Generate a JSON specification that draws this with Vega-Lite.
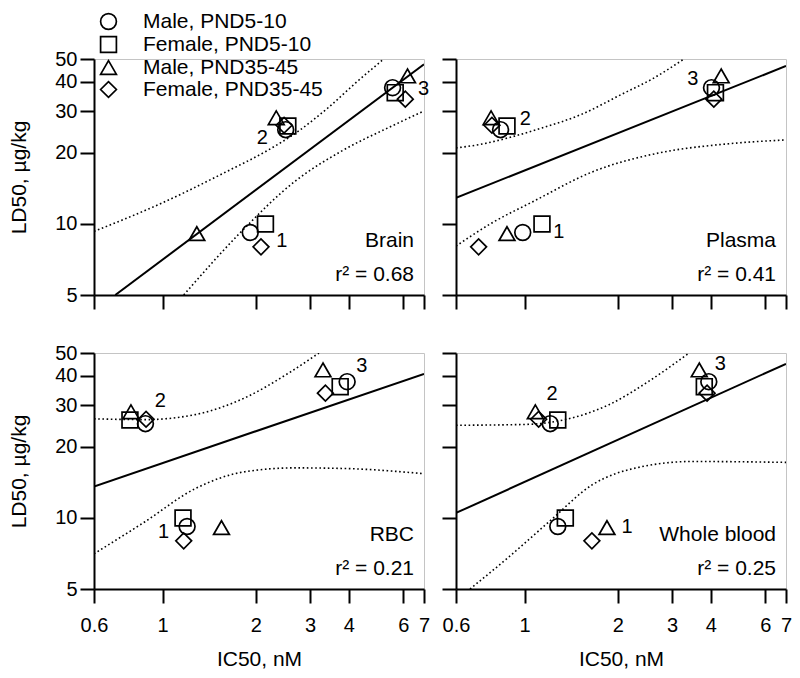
{
  "$schema": "https://vega.github.io/schema/vega-lite/v6.json",
  "background": "white",
  "padding": {"left": 8, "top": 11, "right": 0, "bottom": 0},
  "config": {
    "font": "Liberation Sans",
    "view": {"stroke": "#c4c4c4", "strokeWidth": 1},
    "axis": {"grid": false, "domainColor": "black", "domainWidth": 2, "tickColor": "black", "tickWidth": 2, "tickSize": 14, "labelFontSize": 20, "labelColor": "black", "labelFont": "Liberation Sans", "titleFontSize": 21, "titleFontWeight": "normal", "titleColor": "black", "titleFont": "Liberation Sans", "labelOverlap": false, "labelFlush": false},
    "axisX": {"labelPadding": 12, "titlePadding": 13},
    "axisY": {"labelPadding": 3, "titlePadding": 25},
    "legend": {"orient": "none", "legendX": 4, "legendY": -48, "labelFontSize": 21, "labelColor": "black", "labelFont": "Liberation Sans", "labelLimit": 0, "symbolSize": 250, "symbolStrokeColor": "black", "symbolStrokeWidth": 1.7, "rowPadding": 0, "labelOffset": 24, "padding": 0}
  },
  "datasets": {
    "pts": [
      {"panel": "Brain", "series": "Male, PND5-10", "x": 1.92, "y": 9.2},
      {"panel": "Brain", "series": "Female, PND5-10", "x": 2.15, "y": 10.0},
      {"panel": "Brain", "series": "Male, PND35-45", "x": 1.29, "y": 9.1},
      {"panel": "Brain", "series": "Female, PND35-45", "x": 2.08, "y": 8.0},
      {"panel": "Brain", "series": "Male, PND5-10", "x": 2.5, "y": 25.1},
      {"panel": "Brain", "series": "Female, PND5-10", "x": 2.54, "y": 26.0},
      {"panel": "Brain", "series": "Male, PND35-45", "x": 2.33, "y": 28.2},
      {"panel": "Brain", "series": "Female, PND35-45", "x": 2.47, "y": 26.2},
      {"panel": "Brain", "series": "Male, PND5-10", "x": 5.54, "y": 37.8},
      {"panel": "Brain", "series": "Female, PND5-10", "x": 5.65, "y": 36.0},
      {"panel": "Brain", "series": "Male, PND35-45", "x": 6.19, "y": 42.4},
      {"panel": "Brain", "series": "Female, PND35-45", "x": 6.09, "y": 33.8},
      {"panel": "Plasma", "series": "Male, PND5-10", "x": 0.986, "y": 9.2},
      {"panel": "Plasma", "series": "Female, PND5-10", "x": 1.138, "y": 10.0},
      {"panel": "Plasma", "series": "Male, PND35-45", "x": 0.877, "y": 9.1},
      {"panel": "Plasma", "series": "Female, PND35-45", "x": 0.71, "y": 8.0},
      {"panel": "Plasma", "series": "Male, PND5-10", "x": 0.836, "y": 25.1},
      {"panel": "Plasma", "series": "Female, PND5-10", "x": 0.877, "y": 26.0},
      {"panel": "Plasma", "series": "Male, PND35-45", "x": 0.779, "y": 28.2},
      {"panel": "Plasma", "series": "Female, PND35-45", "x": 0.784, "y": 26.2},
      {"panel": "Plasma", "series": "Male, PND5-10", "x": 4.02, "y": 37.8},
      {"panel": "Plasma", "series": "Female, PND5-10", "x": 4.14, "y": 36.0},
      {"panel": "Plasma", "series": "Male, PND35-45", "x": 4.32, "y": 42.4},
      {"panel": "Plasma", "series": "Female, PND35-45", "x": 4.09, "y": 33.8},
      {"panel": "RBC", "series": "Male, PND5-10", "x": 1.2, "y": 9.2},
      {"panel": "RBC", "series": "Female, PND5-10", "x": 1.164, "y": 10.0},
      {"panel": "RBC", "series": "Male, PND35-45", "x": 1.55, "y": 9.1},
      {"panel": "RBC", "series": "Female, PND35-45", "x": 1.17, "y": 8.0},
      {"panel": "RBC", "series": "Male, PND5-10", "x": 0.88, "y": 25.1},
      {"panel": "RBC", "series": "Female, PND5-10", "x": 0.784, "y": 26.0},
      {"panel": "RBC", "series": "Male, PND35-45", "x": 0.79, "y": 28.2},
      {"panel": "RBC", "series": "Female, PND35-45", "x": 0.884, "y": 26.2},
      {"panel": "RBC", "series": "Male, PND5-10", "x": 3.95, "y": 37.8},
      {"panel": "RBC", "series": "Female, PND5-10", "x": 3.75, "y": 36.0},
      {"panel": "RBC", "series": "Male, PND35-45", "x": 3.3, "y": 42.4},
      {"panel": "RBC", "series": "Female, PND35-45", "x": 3.36, "y": 33.8},
      {"panel": "Whole blood", "series": "Male, PND5-10", "x": 1.28, "y": 9.2},
      {"panel": "Whole blood", "series": "Female, PND5-10", "x": 1.354, "y": 10.0},
      {"panel": "Whole blood", "series": "Male, PND35-45", "x": 1.846, "y": 9.1},
      {"panel": "Whole blood", "series": "Female, PND35-45", "x": 1.65, "y": 8.0},
      {"panel": "Whole blood", "series": "Male, PND5-10", "x": 1.21, "y": 25.1},
      {"panel": "Whole blood", "series": "Female, PND5-10", "x": 1.28, "y": 26.0},
      {"panel": "Whole blood", "series": "Male, PND35-45", "x": 1.083, "y": 28.2},
      {"panel": "Whole blood", "series": "Female, PND35-45", "x": 1.11, "y": 26.2},
      {"panel": "Whole blood", "series": "Male, PND5-10", "x": 3.94, "y": 37.8},
      {"panel": "Whole blood", "series": "Female, PND5-10", "x": 3.81, "y": 36.0},
      {"panel": "Whole blood", "series": "Male, PND35-45", "x": 3.67, "y": 42.4},
      {"panel": "Whole blood", "series": "Female, PND35-45", "x": 3.89, "y": 33.8}
    ],
    "curves": [
      {"panel": "Brain", "curve": "fit", "x": 0.703, "y": 5},
      {"panel": "Brain", "curve": "fit", "x": 7, "y": 47.5},
      {"panel": "Brain", "curve": "upper", "x": 0.6, "y": 9.3},
      {"panel": "Brain", "curve": "upper", "x": 1.0, "y": 12.3},
      {"panel": "Brain", "curve": "upper", "x": 1.6, "y": 16.6},
      {"panel": "Brain", "curve": "upper", "x": 2.2, "y": 20.6},
      {"panel": "Brain", "curve": "upper", "x": 2.72, "y": 24.5},
      {"panel": "Brain", "curve": "upper", "x": 3.44, "y": 31.2},
      {"panel": "Brain", "curve": "upper", "x": 4.2, "y": 39.5},
      {"panel": "Brain", "curve": "upper", "x": 5.19, "y": 50},
      {"panel": "Brain", "curve": "lower", "x": 1.17, "y": 5},
      {"panel": "Brain", "curve": "lower", "x": 1.762, "y": 9.04},
      {"panel": "Brain", "curve": "lower", "x": 2.685, "y": 15.2},
      {"panel": "Brain", "curve": "lower", "x": 3.8, "y": 20.4},
      {"panel": "Brain", "curve": "lower", "x": 5.51, "y": 26.0},
      {"panel": "Brain", "curve": "lower", "x": 7, "y": 30.1},
      {"panel": "Plasma", "curve": "fit", "x": 0.6, "y": 12.9},
      {"panel": "Plasma", "curve": "fit", "x": 7, "y": 46.7},
      {"panel": "Plasma", "curve": "upper", "x": 0.6, "y": 21.0},
      {"panel": "Plasma", "curve": "upper", "x": 0.728, "y": 21.8},
      {"panel": "Plasma", "curve": "upper", "x": 0.91, "y": 23.4},
      {"panel": "Plasma", "curve": "upper", "x": 1.138, "y": 25.5},
      {"panel": "Plasma", "curve": "upper", "x": 1.533, "y": 29.2},
      {"panel": "Plasma", "curve": "upper", "x": 2.065, "y": 35.5},
      {"panel": "Plasma", "curve": "upper", "x": 2.581, "y": 41.1},
      {"panel": "Plasma", "curve": "upper", "x": 3.275, "y": 50},
      {"panel": "Plasma", "curve": "lower", "x": 0.6, "y": 8.06},
      {"panel": "Plasma", "curve": "lower", "x": 0.784, "y": 10.1},
      {"panel": "Plasma", "curve": "lower", "x": 1.072, "y": 12.5},
      {"panel": "Plasma", "curve": "lower", "x": 1.652, "y": 16.6},
      {"panel": "Plasma", "curve": "lower", "x": 2.72, "y": 20.0},
      {"panel": "Plasma", "curve": "lower", "x": 4.445, "y": 21.8},
      {"panel": "Plasma", "curve": "lower", "x": 7, "y": 22.7},
      {"panel": "RBC", "curve": "fit", "x": 0.6, "y": 13.6},
      {"panel": "RBC", "curve": "fit", "x": 7, "y": 40.8},
      {"panel": "RBC", "curve": "upper", "x": 0.6, "y": 26.3},
      {"panel": "RBC", "curve": "upper", "x": 0.877, "y": 26.1},
      {"panel": "RBC", "curve": "upper", "x": 1.273, "y": 27.4},
      {"panel": "RBC", "curve": "upper", "x": 1.846, "y": 32.3},
      {"panel": "RBC", "curve": "upper", "x": 2.562, "y": 41.2},
      {"panel": "RBC", "curve": "upper", "x": 3.203, "y": 50},
      {"panel": "RBC", "curve": "lower", "x": 0.6, "y": 7.05},
      {"panel": "RBC", "curve": "lower", "x": 0.877, "y": 9.64},
      {"panel": "RBC", "curve": "lower", "x": 1.273, "y": 13.3},
      {"panel": "RBC", "curve": "lower", "x": 1.846, "y": 15.7},
      {"panel": "RBC", "curve": "lower", "x": 2.679, "y": 16.3},
      {"panel": "RBC", "curve": "lower", "x": 3.888, "y": 16.2},
      {"panel": "RBC", "curve": "lower", "x": 7, "y": 15.4},
      {"panel": "Whole blood", "curve": "fit", "x": 0.6, "y": 10.5},
      {"panel": "Whole blood", "curve": "fit", "x": 7, "y": 45.0},
      {"panel": "Whole blood", "curve": "upper", "x": 0.6, "y": 24.7},
      {"panel": "Whole blood", "curve": "upper", "x": 1.003, "y": 24.9},
      {"panel": "Whole blood", "curve": "upper", "x": 1.351, "y": 26.1},
      {"panel": "Whole blood", "curve": "upper", "x": 1.874, "y": 30.2},
      {"panel": "Whole blood", "curve": "upper", "x": 2.524, "y": 38.0},
      {"panel": "Whole blood", "curve": "upper", "x": 3.4, "y": 50},
      {"panel": "Whole blood", "curve": "lower", "x": 0.666, "y": 5},
      {"panel": "Whole blood", "curve": "lower", "x": 0.89, "y": 6.84},
      {"panel": "Whole blood", "curve": "lower", "x": 1.2, "y": 9.64},
      {"panel": "Whole blood", "curve": "lower", "x": 1.652, "y": 13.8},
      {"panel": "Whole blood", "curve": "lower", "x": 2.397, "y": 16.5},
      {"panel": "Whole blood", "curve": "lower", "x": 3.476, "y": 17.35},
      {"panel": "Whole blood", "curve": "lower", "x": 7, "y": 17.2}
    ],
    "txt": [
      {"panel": "Brain", "kind": "grp", "x": 2.43, "y": 8.47, "text": "1"},
      {"panel": "Brain", "kind": "grp", "x": 2.1, "y": 23.2, "text": "2"},
      {"panel": "Brain", "kind": "grp", "x": 6.98, "y": 37.2, "text": "3"},
      {"panel": "Plasma", "kind": "grp", "x": 1.289, "y": 9.27, "text": "1"},
      {"panel": "Plasma", "kind": "grp", "x": 1.005, "y": 27.8, "text": "2"},
      {"panel": "Plasma", "kind": "grp", "x": 3.5, "y": 41.0, "text": "3"},
      {"panel": "RBC", "kind": "grp", "x": 1.008, "y": 8.74, "text": "1"},
      {"panel": "RBC", "kind": "grp", "x": 0.983, "y": 31.2, "text": "2"},
      {"panel": "RBC", "kind": "grp", "x": 4.41, "y": 44.0, "text": "3"},
      {"panel": "Whole blood", "kind": "grp", "x": 2.143, "y": 9.18, "text": "1"},
      {"panel": "Whole blood", "kind": "grp", "x": 1.226, "y": 33.5, "text": "2"},
      {"panel": "Whole blood", "kind": "grp", "x": 4.29, "y": 44.7, "text": "3"},
      {"panel": "Brain", "kind": "name", "x": 6.5, "y": 8.5, "text": "Brain"},
      {"panel": "Brain", "kind": "r2", "x": 6.5, "y": 6.1, "text": "r² = 0.68"},
      {"panel": "Plasma", "kind": "name", "x": 6.5, "y": 8.5, "text": "Plasma"},
      {"panel": "Plasma", "kind": "r2", "x": 6.5, "y": 6.1, "text": "r² = 0.41"},
      {"panel": "RBC", "kind": "name", "x": 6.5, "y": 8.5, "text": "RBC"},
      {"panel": "RBC", "kind": "r2", "x": 6.5, "y": 6.1, "text": "r² = 0.21"},
      {"panel": "Whole blood", "kind": "name", "x": 6.5, "y": 8.5, "text": "Whole blood"},
      {"panel": "Whole blood", "kind": "r2", "x": 6.5, "y": 6.1, "text": "r² = 0.25"}
    ]
  },
  "columns": 2,
  "spacing": {"row": 58, "column": 32},
  "bounds": "flush",
  "resolve": {"scale": {"shape": "shared"}, "legend": {"shape": "shared"}},
  "concat": [
    {
      "width": 330, "height": 236,
      "encoding": {
        "x": {"field": "x", "type": "quantitative", "scale": {"type": "log", "domain": [0.6, 7], "nice": false}, "axis": {"values": [0.6, 1, 2, 3, 4, 6, 7], "format": "~g", "labels": false, "title": null}},
        "y": {"field": "y", "type": "quantitative", "scale": {"type": "log", "domain": [5, 50], "nice": false}, "axis": {"values": [5, 10, 20, 30, 40, 50], "format": "~g", "title": "LD50, µg/kg"}}
      },
      "layer": [
        {"data": {"name": "curves"}, "transform": [{"filter": "datum.panel === 'Brain' && datum.curve !== 'fit'"}], "mark": {"type": "line", "clip": true, "color": "black", "strokeWidth": 1.6, "strokeDash": [1.6, 2.6], "interpolate": "monotone"}, "encoding": {"detail": {"field": "curve"}}},
        {"data": {"name": "curves"}, "transform": [{"filter": "datum.panel === 'Brain' && datum.curve === 'fit'"}], "mark": {"type": "line", "clip": true, "color": "black", "strokeWidth": 2}},
        {"data": {"name": "pts"}, "transform": [{"filter": "datum.panel === 'Brain'"}], "mark": {"type": "point", "filled": false, "color": "black", "strokeWidth": 1.7, "opacity": 1, "size": 250}, "encoding": {"shape": {"field": "series", "type": "nominal", "title": null, "scale": {"domain": ["Male, PND5-10", "Female, PND5-10", "Male, PND35-45", "Female, PND35-45"], "range": ["circle", "square", "triangle-up", "diamond"]}}}},
        {"data": {"name": "txt"}, "transform": [{"filter": "datum.panel === 'Brain' && datum.kind === 'grp'"}], "mark": {"type": "text", "fontSize": 20, "color": "black"}, "encoding": {"text": {"field": "text"}}},
        {"data": {"name": "txt"}, "transform": [{"filter": "datum.panel === 'Brain' && datum.kind !== 'grp'"}], "mark": {"type": "text", "fontSize": 21, "color": "black", "align": "right"}, "encoding": {"text": {"field": "text"}}}
      ]
    },
    {
      "width": 330, "height": 236,
      "encoding": {
        "x": {"field": "x", "type": "quantitative", "scale": {"type": "log", "domain": [0.6, 7], "nice": false}, "axis": {"values": [0.6, 1, 2, 3, 4, 6, 7], "format": "~g", "labels": false, "title": null}},
        "y": {"field": "y", "type": "quantitative", "scale": {"type": "log", "domain": [5, 50], "nice": false}, "axis": {"values": [5, 10, 20, 30, 40, 50], "format": "~g", "labels": false, "title": null}}
      },
      "layer": [
        {"data": {"name": "curves"}, "transform": [{"filter": "datum.panel === 'Plasma' && datum.curve !== 'fit'"}], "mark": {"type": "line", "clip": true, "color": "black", "strokeWidth": 1.6, "strokeDash": [1.6, 2.6], "interpolate": "monotone"}, "encoding": {"detail": {"field": "curve"}}},
        {"data": {"name": "curves"}, "transform": [{"filter": "datum.panel === 'Plasma' && datum.curve === 'fit'"}], "mark": {"type": "line", "clip": true, "color": "black", "strokeWidth": 2}},
        {"data": {"name": "pts"}, "transform": [{"filter": "datum.panel === 'Plasma'"}], "mark": {"type": "point", "filled": false, "color": "black", "strokeWidth": 1.7, "opacity": 1, "size": 250}, "encoding": {"shape": {"field": "series", "type": "nominal", "title": null, "scale": {"domain": ["Male, PND5-10", "Female, PND5-10", "Male, PND35-45", "Female, PND35-45"], "range": ["circle", "square", "triangle-up", "diamond"]}}}},
        {"data": {"name": "txt"}, "transform": [{"filter": "datum.panel === 'Plasma' && datum.kind === 'grp'"}], "mark": {"type": "text", "fontSize": 20, "color": "black"}, "encoding": {"text": {"field": "text"}}},
        {"data": {"name": "txt"}, "transform": [{"filter": "datum.panel === 'Plasma' && datum.kind !== 'grp'"}], "mark": {"type": "text", "fontSize": 21, "color": "black", "align": "right"}, "encoding": {"text": {"field": "text"}}}
      ]
    },
    {
      "width": 330, "height": 236,
      "encoding": {
        "x": {"field": "x", "type": "quantitative", "scale": {"type": "log", "domain": [0.6, 7], "nice": false}, "axis": {"values": [0.6, 1, 2, 3, 4, 6, 7], "format": "~g", "title": "IC50, nM"}},
        "y": {"field": "y", "type": "quantitative", "scale": {"type": "log", "domain": [5, 50], "nice": false}, "axis": {"values": [5, 10, 20, 30, 40, 50], "format": "~g", "title": "LD50, µg/kg"}}
      },
      "layer": [
        {"data": {"name": "curves"}, "transform": [{"filter": "datum.panel === 'RBC' && datum.curve !== 'fit'"}], "mark": {"type": "line", "clip": true, "color": "black", "strokeWidth": 1.6, "strokeDash": [1.6, 2.6], "interpolate": "monotone"}, "encoding": {"detail": {"field": "curve"}}},
        {"data": {"name": "curves"}, "transform": [{"filter": "datum.panel === 'RBC' && datum.curve === 'fit'"}], "mark": {"type": "line", "clip": true, "color": "black", "strokeWidth": 2}},
        {"data": {"name": "pts"}, "transform": [{"filter": "datum.panel === 'RBC'"}], "mark": {"type": "point", "filled": false, "color": "black", "strokeWidth": 1.7, "opacity": 1, "size": 250}, "encoding": {"shape": {"field": "series", "type": "nominal", "title": null, "scale": {"domain": ["Male, PND5-10", "Female, PND5-10", "Male, PND35-45", "Female, PND35-45"], "range": ["circle", "square", "triangle-up", "diamond"]}}}},
        {"data": {"name": "txt"}, "transform": [{"filter": "datum.panel === 'RBC' && datum.kind === 'grp'"}], "mark": {"type": "text", "fontSize": 20, "color": "black"}, "encoding": {"text": {"field": "text"}}},
        {"data": {"name": "txt"}, "transform": [{"filter": "datum.panel === 'RBC' && datum.kind !== 'grp'"}], "mark": {"type": "text", "fontSize": 21, "color": "black", "align": "right"}, "encoding": {"text": {"field": "text"}}}
      ]
    },
    {
      "width": 330, "height": 236,
      "encoding": {
        "x": {"field": "x", "type": "quantitative", "scale": {"type": "log", "domain": [0.6, 7], "nice": false}, "axis": {"values": [0.6, 1, 2, 3, 4, 6, 7], "format": "~g", "title": "IC50, nM"}},
        "y": {"field": "y", "type": "quantitative", "scale": {"type": "log", "domain": [5, 50], "nice": false}, "axis": {"values": [5, 10, 20, 30, 40, 50], "format": "~g", "labels": false, "title": null}}
      },
      "layer": [
        {"data": {"name": "curves"}, "transform": [{"filter": "datum.panel === 'Whole blood' && datum.curve !== 'fit'"}], "mark": {"type": "line", "clip": true, "color": "black", "strokeWidth": 1.6, "strokeDash": [1.6, 2.6], "interpolate": "monotone"}, "encoding": {"detail": {"field": "curve"}}},
        {"data": {"name": "curves"}, "transform": [{"filter": "datum.panel === 'Whole blood' && datum.curve === 'fit'"}], "mark": {"type": "line", "clip": true, "color": "black", "strokeWidth": 2}},
        {"data": {"name": "pts"}, "transform": [{"filter": "datum.panel === 'Whole blood'"}], "mark": {"type": "point", "filled": false, "color": "black", "strokeWidth": 1.7, "opacity": 1, "size": 250}, "encoding": {"shape": {"field": "series", "type": "nominal", "title": null, "scale": {"domain": ["Male, PND5-10", "Female, PND5-10", "Male, PND35-45", "Female, PND35-45"], "range": ["circle", "square", "triangle-up", "diamond"]}}}},
        {"data": {"name": "txt"}, "transform": [{"filter": "datum.panel === 'Whole blood' && datum.kind === 'grp'"}], "mark": {"type": "text", "fontSize": 20, "color": "black"}, "encoding": {"text": {"field": "text"}}},
        {"data": {"name": "txt"}, "transform": [{"filter": "datum.panel === 'Whole blood' && datum.kind !== 'grp'"}], "mark": {"type": "text", "fontSize": 21, "color": "black", "align": "right"}, "encoding": {"text": {"field": "text"}}}
      ]
    }
  ]
}
